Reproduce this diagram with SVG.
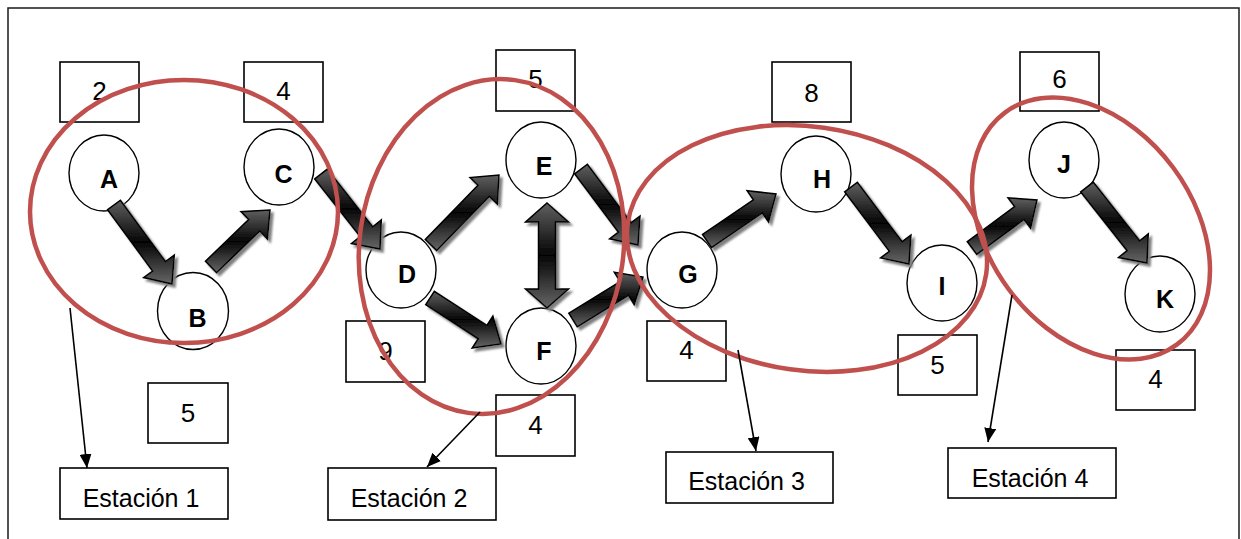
<svg xmlns="http://www.w3.org/2000/svg" width="1241" height="539" viewBox="0 0 1241 539">
  <defs>
    <style>
      .frame { fill: #ffffff; stroke: #1a1a1a; stroke-width: 1.5; }
      .box { fill: #ffffff; stroke: #000000; stroke-width: 1.6; }
      .node { fill: #ffffff; stroke: #000000; stroke-width: 1.4; }
      .num { font-family: "Liberation Sans", Arial, sans-serif; font-size: 26px; fill: #000000; text-anchor: middle; }
      .lbl { font-family: "Liberation Sans", Arial, sans-serif; font-size: 25px; font-weight: bold; fill: #000000; text-anchor: middle; }
      .stn { font-family: "Liberation Sans", Arial, sans-serif; font-size: 25px; fill: #000000; text-anchor: middle; }
      .flow { fill: url(#bevel); stroke: #000000; stroke-width: 1.5; stroke-linejoin: miter; filter: url(#shadow); }
      .group { fill: none; stroke: #C0504D; stroke-width: 4.5; }
      .pointer { fill: none; stroke: #000000; stroke-width: 1.6; marker-end: url(#tip); }
    </style>
    <linearGradient id="bevel" x1="0" y1="0" x2="0" y2="1">
      <stop offset="0" stop-color="#606060"/>
      <stop offset="0.5" stop-color="#050505"/>
      <stop offset="1" stop-color="#666666"/>
    </linearGradient>
    <filter id="shadow" x="-20%" y="-20%" width="150%" height="150%">
      <feGaussianBlur in="SourceAlpha" stdDeviation="1"/>
      <feOffset dx="3" dy="3" result="off"/>
      <feFlood flood-color="#7f7f7f"/>
      <feComposite in2="off" operator="in" result="sh"/>
      <feMerge>
        <feMergeNode in="sh"/>
        <feMergeNode in="SourceGraphic"/>
      </feMerge>
    </filter>
    <marker id="tip" viewBox="0 0 14 12" markerWidth="14" markerHeight="12" refX="14" refY="6" markerUnits="userSpaceOnUse" orient="auto">
      <path d="M0,0 L14,6 L0,12 z" fill="#000000"/>
    </marker>
  </defs>

  <!-- page frame -->
  <rect class="frame" x="8" y="8" width="1231" height="545"/>

  <!-- task time boxes -->
  <g id="times">
    <g id="t-A"><rect class="box" x="60" y="62" width="79" height="60"/><text class="num" x="99.5" y="100">2</text></g>
    <g id="t-C"><rect class="box" x="244" y="62" width="79" height="60"/><text class="num" x="283.5" y="100">4</text></g>
    <g id="t-B"><rect class="box" x="148" y="383" width="80" height="60"/><text class="num" x="188" y="422">5</text></g>
    <g id="t-E"><rect class="box" x="496" y="50" width="79" height="61"/><text class="num" x="535.5" y="88">5</text></g>
    <g id="t-D"><rect class="box" x="346" y="321" width="79" height="61"/><text class="num" x="385.5" y="360">9</text></g>
    <g id="t-F"><rect class="box" x="496" y="395" width="79" height="61"/><text class="num" x="535.5" y="434">4</text></g>
    <g id="t-H"><rect class="box" x="772" y="62" width="79" height="60"/><text class="num" x="811.5" y="102">8</text></g>
    <g id="t-G"><rect class="box" x="647" y="321" width="79" height="60"/><text class="num" x="686.5" y="359">4</text></g>
    <g id="t-I"><rect class="box" x="898" y="335" width="79" height="60"/><text class="num" x="937.5" y="374">5</text></g>
    <g id="t-J"><rect class="box" x="1020" y="52" width="79" height="59"/><text class="num" x="1059.5" y="88">6</text></g>
    <g id="t-K"><rect class="box" x="1116" y="350" width="79" height="60"/><text class="num" x="1155.5" y="388">4</text></g>
  </g>

  <!-- task nodes -->
  <g id="node-A"><ellipse class="node" cx="104" cy="173" rx="35" ry="38"/><text class="lbl" x="109" y="188">A</text></g>
  <g id="node-B"><ellipse class="node" cx="193" cy="311" rx="35.5" ry="38.5"/><text class="lbl" x="197.5" y="327">B</text></g>
  <g id="node-C"><ellipse class="node" cx="279" cy="167" rx="35" ry="38"/><text class="lbl" x="283.5" y="183">C</text></g>
  <g id="node-D"><ellipse class="node" cx="401" cy="270" rx="35" ry="38"/><text class="lbl" x="407" y="283">D</text></g>
  <g id="node-E"><ellipse class="node" cx="541" cy="160" rx="35" ry="38"/><text class="lbl" x="544" y="175">E</text></g>
  <g id="node-F"><ellipse class="node" cx="541" cy="346" rx="35" ry="38"/><text class="lbl" x="544" y="360">F</text></g>
  <g id="node-G"><ellipse class="node" cx="682" cy="270" rx="35" ry="38"/><text class="lbl" x="688" y="283">G</text></g>
  <g id="node-H"><ellipse class="node" cx="816" cy="174" rx="35" ry="38"/><text class="lbl" x="822" y="188">H</text></g>
  <g id="node-I"><ellipse class="node" cx="942" cy="283" rx="35" ry="38"/><text class="lbl" x="942" y="295">I</text></g>
  <g id="node-J"><ellipse class="node" cx="1064" cy="160" rx="35" ry="38"/><text class="lbl" x="1064" y="173">J</text></g>
  <g id="node-K"><ellipse class="node" cx="1160" cy="294" rx="35" ry="38"/><text class="lbl" x="1165" y="308">K</text></g>

  <!-- precedence arrows -->
  <g id="connectors">
    <polygon class="flow" points="107.55,209.73 152.53,271.00 143.66,277.51 172,284 174.30,255.03 165.43,261.54 120.45,200.27"/>
    <polygon class="flow" points="216.56,272.75 259.74,231.04 267.38,238.95 270,210 240.98,211.63 248.62,219.54 205.44,261.25"/>
    <polygon class="flow" points="314.71,178.95 360.11,236.66 351.47,243.46 380,249 381.33,219.96 372.69,226.76 327.29,169.05"/>
    <polygon class="flow" points="436.74,250.57 489.41,196.35 497.30,204.02 499,175 470.04,177.54 477.93,185.21 425.26,239.43"/>
    <polygon class="flow" points="425.65,304.71 478.19,338.75 472.21,347.98 501,344 492.87,316.10 486.89,325.33 434.35,291.29"/>
    <polygon class="flow" points="547,203 568.5,222 555.5,222 555.5,289 568.5,289 547,308 525.5,289 538.5,289 538.5,222 525.5,222"/>
    <polygon class="flow" points="574.6,173.8 618.4,232.2 609.6,238.8 638,245 640.0,216.0 631.2,222.6 587.4,164.2"/>
    <polygon class="flow" points="577.19,326.82 628.44,295.33 634.19,304.70 643,277 614.31,272.32 620.06,281.69 568.81,313.18"/>
    <polygon class="flow" points="711.50,247.61 762.32,213.00 768.52,222.09 776,194 747.12,190.69 753.32,199.78 702.50,234.39"/>
    <polygon class="flow" points="844.61,191.81 889.37,251.24 880.58,257.86 909,264 910.94,235.00 902.15,241.62 857.39,182.19"/>
    <polygon class="flow" points="976.75,254.44 1024.05,219.51 1030.59,228.36 1037,200 1008.01,197.78 1014.55,206.63 967.25,241.56"/>
    <polygon class="flow" points="1080.72,191.96 1127.09,250.69 1118.46,257.50 1147,263 1148.28,233.96 1139.65,240.77 1093.28,182.04"/>
  </g>

  <!-- work stations -->
  <g id="stations">
    <ellipse class="group" cx="184" cy="211.5" rx="154" ry="131.5"/>
    <ellipse class="group" cx="491.5" cy="246.5" rx="132" ry="168" transform="rotate(8 491.5 246.5)"/>
    <ellipse class="group" cx="807" cy="248.5" rx="181" ry="122" transform="rotate(8 807 248.5)"/>
    <ellipse class="group" cx="1091" cy="228.5" rx="144.4" ry="102.3" transform="rotate(53.4 1091 228.5)"/>
  </g>

  <!-- station callouts -->
  <g id="callouts">
    <line class="pointer" x1="70" y1="308" x2="87" y2="468"/>
    <line class="pointer" x1="480" y1="412" x2="427" y2="467"/>
    <line class="pointer" x1="738" y1="350" x2="756" y2="451"/>
    <line class="pointer" x1="1012" y1="295" x2="988" y2="442"/>
  </g>
  <g id="station-1"><rect class="box" x="60" y="468" width="168" height="51"/><text class="stn" x="141" y="507">Estación 1</text></g>
  <g id="station-2"><rect class="box" x="328" y="468" width="168" height="52"/><text class="stn" x="409" y="507">Estación 2</text></g>
  <g id="station-3"><rect class="box" x="666" y="452" width="167" height="51"/><text class="stn" x="746.5" y="490">Estación 3</text></g>
  <g id="station-4"><rect class="box" x="948" y="448" width="168" height="50"/><text class="stn" x="1030" y="487">Estación 4</text></g>
</svg>
